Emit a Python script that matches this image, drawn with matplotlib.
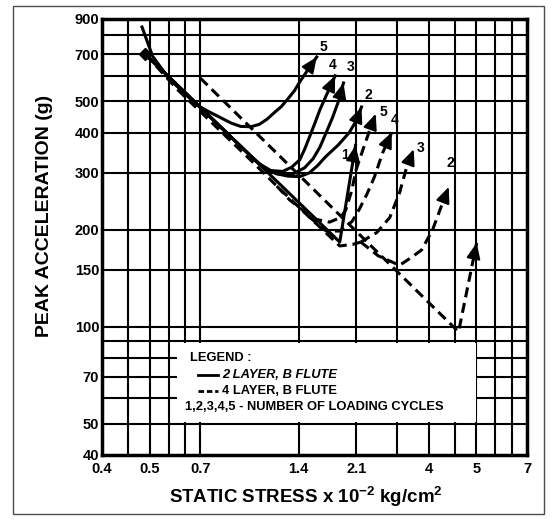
import matplotlib
matplotlib.use("Agg")
import matplotlib.pyplot as plt
import numpy as np
from matplotlib.patches import Rectangle
from matplotlib.ticker import NullLocator

plt.rcParams["font.family"] = ["Liberation Sans", "DejaVu Sans"]
plt.rcParams["font.weight"] = "bold"
plt.rcParams["mathtext.fontset"] = "custom"
plt.rcParams["mathtext.rm"] = "Liberation Sans:bold"
plt.rcParams["mathtext.bf"] = "Liberation Sans:bold"
plt.rcParams["mathtext.default"] = "bf"

# the printed labels "0.4" and "4" sit on the 0.35 / 3.5 lines of the paper
x_tick_pos = [0.35, 0.49, 0.7, 1.4, 2.1, 3.5, 4.9, 7.0]
x_tick_lab = ["0.4", "0.5", "0.7", "1.4", "2.1", "4", "5", "7"]
y_ticks = [40, 50, 70, 100, 150, 200, 300, 400, 500, 700, 900]
x_grid = [0.42, 0.49, 0.56, 0.63, 0.7, 1.4, 2.1, 2.8, 3.5, 4.2, 4.9, 5.6, 6.3]
y_grid = [50, 60, 70, 80, 90, 100, 150, 200, 300, 400, 500, 600, 700, 800]

# 2 layer, B flute (solid)
s1_x = [0.475, 1.87, 2.09]
s1_y = [700, 183, 365]
s2_x = [0.475, 0.8, 1.0, 1.1, 1.2, 1.3, 1.41, 1.51, 1.6, 1.69, 1.85, 2.0, 2.1, 2.18]
s2_y = [700, 420, 338, 310, 298, 293, 292, 300, 316, 336, 366, 400, 435, 480]
s3_x = [0.475, 0.8, 1.0, 1.1, 1.2, 1.33, 1.46, 1.55, 1.625, 1.7, 1.78, 1.86, 1.92]
s3_y = [700, 420, 338, 310, 298, 296, 311, 332, 360, 400, 447, 505, 570]
s4_x = [0.475, 0.8, 0.95, 1.05, 1.15, 1.25, 1.33, 1.41, 1.46, 1.51, 1.57, 1.625, 1.72, 1.81]
s4_y = [700, 420, 355, 322, 305, 303, 312, 329, 355, 387, 428, 470, 535, 600]
s5_x = [0.464, 0.50, 0.56, 0.63, 0.70, 0.75, 0.80, 0.87, 0.93, 1.0, 1.06, 1.12,
        1.17, 1.24, 1.30, 1.36, 1.41, 1.50, 1.59]
s5_y = [850, 690, 590, 525, 480, 462, 447, 428, 418, 417, 424, 440,
        458, 482, 510, 540, 574, 630, 686]

# 4 layer, B flute (dashed)
dbase_x = [0.475, 0.6, 1.0, 1.2, 1.5, 1.87, 2.05, 2.17]
dbase_y = [700, 540, 328, 273, 220, 178, 180, 183]
d1_x = [0.70, 4.32, 4.91]
d1_y = [590, 96.4, 182]
d2_x = [2.17, 2.45, 2.85, 3.1, 3.33, 3.6, 3.86, 4.03]
d2_y = [183, 166, 155, 164, 173, 200, 242, 271]
d3_x = [2.17, 2.43, 2.66, 2.85, 2.98, 3.15]
d3_y = [183, 196, 218, 260, 306, 355]
d4_x = [1.5, 1.7, 1.87, 2.04, 2.15, 2.27, 2.39, 2.53, 2.70]
d4_y = [220, 198, 198, 212, 232, 259, 292, 346, 401]
d5_x = [1.2, 1.315, 1.47, 1.59, 1.74, 1.88, 1.95, 2.03, 2.1, 2.2, 2.31, 2.41]
d5_y = [273, 247, 226, 215, 211, 218, 230, 262, 307, 353, 407, 457]

solid_lab = ["1", "2", "3", "4", "5"]
solid_lab_x = [1.94, 2.29, 2.02, 1.78, 1.67]
solid_lab_y = [341, 523, 637, 648, 737]
dash_lab = ["2", "3", "4", "5"]
dash_lab_x = [4.09, 3.3, 2.75, 2.55]
dash_lab_y = [322, 357, 438, 464]

DASH = (0, (3.3, 1.9))

fig = plt.figure(figsize=(5.52, 5.19), dpi=100)
ax = fig.add_axes([102 / 552, 1 - 455 / 519, 425 / 552, 436 / 519])
ax.set_xscale("log")
ax.set_yscale("log")
ax.set_xlim(0.35, 7.0)
ax.set_ylim(40, 900)

for gx in x_grid:
    ax.axvline(gx, color="k", lw=1.5, zorder=1)
for gy in y_grid:
    ax.axhline(gy, color="k", lw=1.5, zorder=1)

# legend panel hides the grid behind it
ax.add_patch(Rectangle((0.176, 0.075), 0.705, 0.182, transform=ax.transAxes,
                       facecolor="white", edgecolor="none", zorder=1.5))


def curve(xs, ys, ls):
    ax.plot(xs, ys, color="k", lw=2.2, linestyle=ls, zorder=3)
    lx0, ly0 = np.log10(xs[-2]), np.log10(ys[-2])
    lx1, ly1 = np.log10(xs[-1]), np.log10(ys[-1])
    back = (10 ** (lx1 - 0.2 * (lx1 - lx0)), 10 ** (ly1 - 0.2 * (ly1 - ly0)))
    ax.annotate("", xy=(xs[-1], ys[-1]), xytext=back, zorder=4,
                arrowprops=dict(arrowstyle="-|>,head_length=0.8,head_width=0.35",
                                color="k", lw=1.5, shrinkA=0, shrinkB=0,
                                mutation_scale=12))


for xs, ys in [(s1_x, s1_y), (s2_x, s2_y), (s3_x, s3_y), (s4_x, s4_y), (s5_x, s5_y)]:
    curve(xs, ys, "-")

ax.plot(dbase_x, dbase_y, color="k", lw=2.2, linestyle=DASH, zorder=3)
for xs, ys in [(d1_x, d1_y), (d2_x, d2_y), (d3_x, d3_y), (d4_x, d4_y), (d5_x, d5_y)]:
    curve(xs, ys, DASH)

ax.plot([0.475], [700], marker="D", color="k", ms=6, zorder=4)

for t, tx, ty in zip(solid_lab, solid_lab_x, solid_lab_y):
    ax.text(tx, ty, t, fontsize=10, weight="bold", ha="center", va="center", zorder=5)
for t, tx, ty in zip(dash_lab, dash_lab_x, dash_lab_y):
    ax.text(tx, ty, t, fontsize=10, weight="bold", ha="center", va="center", zorder=5)

# legend
LFS = 9.3
ax.text(0.207, 0.2225, "LEGEND :", transform=ax.transAxes, fontsize=LFS,
        weight="bold", va="center", zorder=5)
ax.plot([0.226, 0.273], [0.1835, 0.1835], transform=ax.transAxes, color="k", lw=2, zorder=5)
ax.text(0.282, 0.1835, "2 LAYER, B FLUTE", transform=ax.transAxes, fontsize=LFS,
        weight="bold", style="italic", va="center", zorder=5)
ax.plot([0.226, 0.273], [0.1468, 0.1468], transform=ax.transAxes, color="k", lw=2,
        linestyle=(0, (2, 1)), zorder=5)
ax.text(0.282, 0.1468, "4 LAYER, B FLUTE", transform=ax.transAxes, fontsize=LFS,
        weight="bold", va="center", zorder=5)
ax.text(0.195, 0.110, "1,2,3,4,5 - NUMBER OF LOADING CYCLES", transform=ax.transAxes,
        fontsize=LFS, weight="bold", va="center", zorder=5)

ax.set_xticks(x_tick_pos, x_tick_lab)
ax.set_yticks(y_ticks, [str(v) for v in y_ticks])
ax.xaxis.set_minor_locator(NullLocator())
ax.yaxis.set_minor_locator(NullLocator())
ax.tick_params(length=0, labelsize=10.5)
ax.tick_params(axis="x", pad=5)
ax.tick_params(axis="y", pad=2)
for lab in ax.get_xticklabels() + ax.get_yticklabels():
    lab.set_fontweight("bold")
for sp in ax.spines.values():
    sp.set_linewidth(2.5)

fig.text(45 / 552, 1 - 216 / 519, "PEAK ACCELERATION (g)", rotation=90,
         ha="center", va="center", fontsize=14, weight="bold")
fig.text(306 / 552, 1 - 497 / 519, r"STATIC STRESS x 10$^{-2}$ kg/cm$^{2}$",
         ha="center", va="center", fontsize=13.5, weight="bold")

fig.patches.append(Rectangle((13 / 552, 1 - 514 / 519), 531 / 552, 508 / 519,
                             transform=fig.transFigure, fill=False, lw=1, ec="0.3"))

fig.savefig("out.png", dpi=100)
